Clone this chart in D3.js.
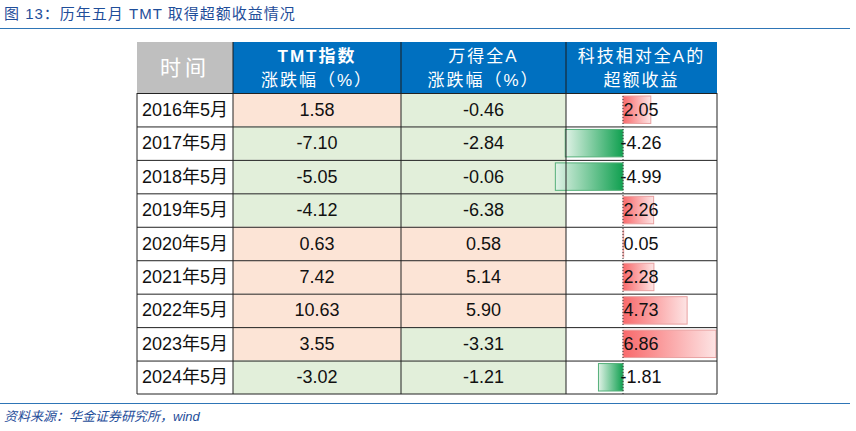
<!DOCTYPE html>
<html><head><meta charset="utf-8">
<script src="https://cdn.jsdelivr.net/npm/d3@7"></script>
<style>body{margin:0;background:#fff}</style>
</head><body><div id="chart"></div>
<script>
var periods = ["2016年5月","2017年5月","2018年5月","2019年5月","2020年5月","2021年5月","2022年5月","2023年5月","2024年5月"];
var tmt = [1.58,-7.10,-5.05,-4.12,0.63,7.42,10.63,3.55,-3.02];
var allA = [-0.46,-2.84,-0.06,-6.38,0.58,5.14,5.90,-3.31,-1.21];
var excess = [2.05,-4.26,-4.99,2.26,0.05,2.28,4.73,6.86,-1.81];

var W = 856, H = 431;
var font = "'Liberation Sans','Noto Sans CJK SC',sans-serif";
var svg = d3.select("#chart").append("svg").attr("width", W).attr("height", H);
var defs = svg.append("defs");
var gr = defs.append("linearGradient").attr("id","gr");
gr.append("stop").attr("offset","0").attr("stop-color","#f8696b");
gr.append("stop").attr("offset","1").attr("stop-color","#fde4e4");
var gg = defs.append("linearGradient").attr("id","gg");
gg.append("stop").attr("offset","0").attr("stop-color","#e0f2e6");
gg.append("stop").attr("offset","1").attr("stop-color","#10a050");

// title
svg.append("text").attr("x",4).attr("y",19).attr("font-family",font).attr("font-size",15)
  .attr("fill","#1f4e9a").attr("letter-spacing",1).text("图 13：历年五月 TMT 取得超额收益情况");
svg.append("line").attr("x1",0).attr("x2",850).attr("y1",28.5).attr("y2",28.5).attr("stroke","#2e75b6").attr("stroke-width",1.2);
svg.append("line").attr("x1",0).attr("x2",850).attr("y1",403.5).attr("y2",403.5).attr("stroke","#2e75b6").attr("stroke-width",1.2);
svg.append("text").attr("x",4).attr("y",421).attr("font-family",font).attr("font-size",13)
  .attr("font-style","italic").attr("fill","#1f4e9a").text("资料来源：华金证券研究所，wind");

var colX = [137,233,401,566,717];
var y = d3.scaleBand().domain(periods).range([93,394]);
var headTop = 42;

// header
svg.append("rect").attr("x",colX[0]).attr("y",headTop).attr("width",colX[1]-colX[0]).attr("height",93-headTop).attr("fill","#bfbfbf");
svg.append("rect").attr("x",colX[1]).attr("y",headTop).attr("width",colX[4]-colX[1]).attr("height",93-headTop).attr("fill","#0070c0");
svg.append("text").attr("x",(colX[0]+colX[1])/2).attr("y",75).attr("text-anchor","middle")
  .attr("font-family",font).attr("font-size",21).attr("fill","#fff").attr("letter-spacing",4).text("时间");
var heads = [["TMT指数","涨跌幅（%）"],["万得全A","涨跌幅（%）"],["科技相对全A的","超额收益"]];
heads.forEach(function(h,i){
  var cx = (colX[i+1]+colX[i+2])/2;
  h.forEach(function(t,j){
    svg.append("text").attr("x",cx).attr("y",62+j*24).attr("text-anchor","middle")
      .attr("font-family",font).attr("font-size",17).attr("fill","#fff").attr("letter-spacing",2)
      .attr("font-weight", i==0&&j==0 ? "bold" : "normal").text(t);
  });
});
[1,2,3].forEach(function(i){
  svg.append("line").attr("x1",colX[i]).attr("x2",colX[i]).attr("y1",headTop).attr("y2",93).attr("stroke","#1a1a1a");
});

var fill = function(v){ return v >= 0 ? "#fce4d6" : "#e2efda"; };
var rows = svg.append("g").selectAll("g").data(periods).enter().append("g");
rows.append("rect").attr("x",colX[1]).attr("y",function(d){return y(d);}).attr("width",colX[2]-colX[1])
  .attr("height",y.bandwidth()).attr("fill",function(d,i){return fill(tmt[i]);});
rows.append("rect").attr("x",colX[2]).attr("y",function(d){return y(d);}).attr("width",colX[3]-colX[2])
  .attr("height",y.bandwidth()).attr("fill",function(d,i){return fill(allA[i]);});

// data bars
var x = d3.scaleLinear().domain([0,6.86]).range([623,716]);
rows.append("rect")
  .attr("x",function(d,i){return Math.min(x(0),x(excess[i]));})
  .attr("y",function(d){return y(d)+3;})
  .attr("width",function(d,i){return Math.abs(x(excess[i])-x(0));})
  .attr("height",y.bandwidth()-6)
  .attr("fill",function(d,i){return excess[i]>=0?"url(#gr)":"url(#gg)";})
  .attr("stroke",function(d,i){return excess[i]>=0?"#e8a0a0":"#55b07a";});
svg.append("line").attr("x1",x(0)).attr("x2",x(0)).attr("y1",93).attr("y2",394)
  .attr("stroke","#333").attr("stroke-dasharray","1,2");

var tx = function(cx, vals){
  rows.append("text").attr("x",cx).attr("y",function(d){return y(d)+y.bandwidth()/2+6;})
    .attr("text-anchor","middle").attr("font-family",font).attr("font-size",18).attr("fill","#111")
    .text(function(d,i){return vals ? vals[i].toFixed(2) : d;});
};
tx((colX[0]+colX[1])/2,null);
tx((colX[1]+colX[2])/2,tmt);
tx((colX[2]+colX[3])/2,allA);
tx(641,excess);

// grid lines
periods.forEach(function(d){
  svg.append("line").attr("x1",colX[0]).attr("x2",colX[4]).attr("y1",y(d)+0.5).attr("y2",y(d)+0.5).attr("stroke","#222");
});
svg.append("line").attr("x1",colX[0]).attr("x2",colX[4]).attr("y1",394).attr("y2",394).attr("stroke","#222");
colX.forEach(function(c){
  svg.append("line").attr("x1",c).attr("x2",c).attr("y1",93).attr("y2",394).attr("stroke","#222");
});
</script></body></html>
